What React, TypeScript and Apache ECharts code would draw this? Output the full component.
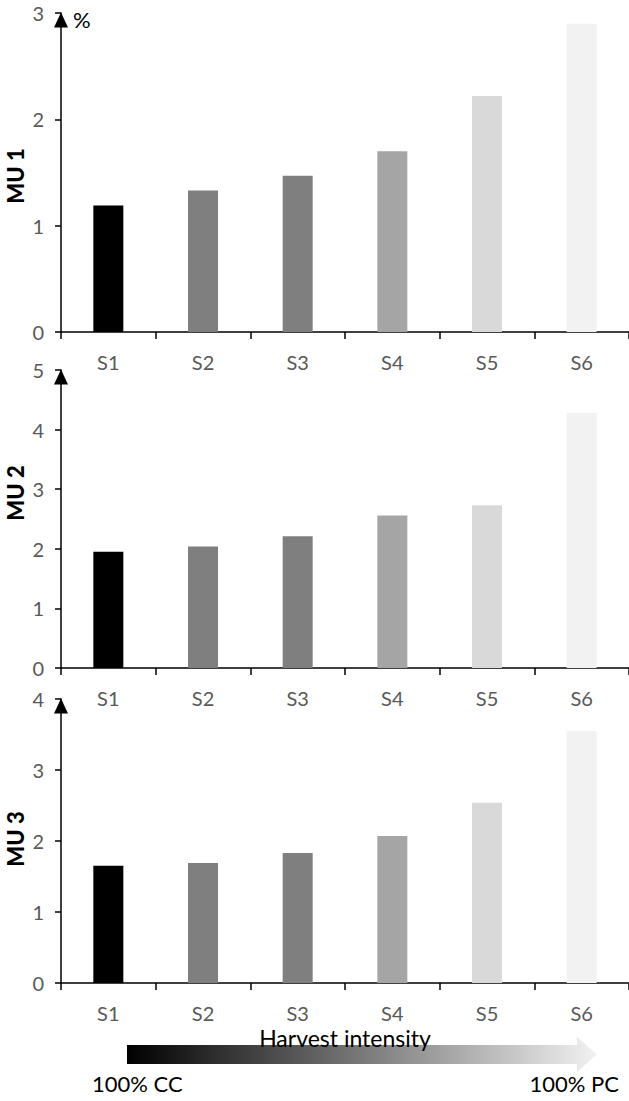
import React, { useEffect, useRef } from "react";
import * as echarts from "echarts";

const categories = ["S1", "S2", "S3", "S4", "S5", "S6"];
const mu1Values = [1.19, 1.33, 1.47, 1.7, 2.22, 2.9];
const mu2Values = [1.95, 2.04, 2.21, 2.56, 2.73, 4.28];
const mu3Values = [1.65, 1.69, 1.83, 2.07, 2.54, 3.55];
const barColors = ["#000000", "#7f7f7f", "#7f7f7f", "#a5a5a5", "#d9d9d9", "#f2f2f2"];
const panelNames = ["MU 1", "MU 2", "MU 3"];
const yMax = [3, 5, 4];

const FONT = "Lato, 'Open Sans', sans-serif";

export default function App() {
  const ref = useRef<HTMLDivElement>(null);

  useEffect(() => {
    if (!ref.current) return;
    const chart = echarts.init(ref.current, null, { renderer: "svg" });

    const grids = [
      { left: 61, top: 13, width: 573, height: 319 },
      { left: 61, top: 370, width: 573, height: 298 },
      { left: 61, top: 699, width: 573, height: 284 },
    ];
    const seriesData = [mu1Values, mu2Values, mu3Values];

    const xAxes = grids.map((_, i) => ({
      type: "category",
      gridIndex: i,
      data: categories,
      axisLine: { lineStyle: { color: "#000", width: 1.5 } },
      axisTick: { show: true, length: 7, lineStyle: { color: "#000", width: 1.5 } },
      axisLabel: { color: "#595959", fontSize: 20, fontFamily: FONT, margin: 20 },
    }));

    const yAxes = grids.map((_, i) => ({
      type: "value",
      gridIndex: i,
      min: 0,
      max: yMax[i],
      interval: 1,
      splitLine: { show: false },
      axisLine: {
        show: true,
        symbol: ["none", "triangle"],
        symbolSize: [14, 15],
        symbolOffset: [0, -7],
        lineStyle: { color: "#000", width: 1.5 },
      },
      axisTick: { show: true, length: 6, lineStyle: { color: "#000", width: 1.5 } },
      axisLabel: { color: "#595959", fontSize: 20, fontFamily: FONT, margin: 17 },
    }));

    const series = seriesData.map((vals, i) => ({
      type: "bar",
      xAxisIndex: i,
      yAxisIndex: i,
      barWidth: 30,
      data: vals.map((v, j) => ({ value: v, itemStyle: { color: barColors[j] } })),
    }));

    const muY = [176, 493, 839];

    chart.setOption({
      animation: false,
      grid: grids,
      xAxis: xAxes,
      yAxis: yAxes,
      series,
      graphic: [
        ...panelNames.map((name, i) => ({
          type: "text",
          x: 15,
          y: muY[i],
          rotation: Math.PI / 2,
          style: {
            text: name,
            fill: "#000",
            font: `900 22px ${FONT}`,
            textAlign: "center",
            textVerticalAlign: "middle",
          },
        })),
        {
          type: "text",
          x: 73,
          y: 19,
          style: { text: "%", fill: "#000", font: `22px ${FONT}`, textAlign: "left", textVerticalAlign: "middle" },
        },
        {
          type: "polygon",
          shape: {
            points: [
              [127, 1045],
              [577, 1045],
              [577, 1037],
              [597, 1054.5],
              [577, 1072],
              [577, 1064],
              [127, 1064],
            ],
          },
          style: {
            fill: new echarts.graphic.LinearGradient(0, 0, 1, 0, [
              { offset: 0, color: "#000000" },
              { offset: 1, color: "#f2f2f2" },
            ]),
          },
        },
        {
          type: "text",
          x: 345,
          y: 1038,
          style: { text: "Harvest intensity", fill: "#000", font: `23px ${FONT}`, textAlign: "center", textVerticalAlign: "middle" },
        },
        {
          type: "text",
          x: 92,
          y: 1083,
          style: { text: "100% CC", fill: "#000", font: `22px ${FONT}`, textAlign: "left", textVerticalAlign: "middle" },
        },
        {
          type: "text",
          x: 619,
          y: 1083,
          style: { text: "100% PC", fill: "#000", font: `22px ${FONT}`, textAlign: "right", textVerticalAlign: "middle" },
        },
      ],
    });

    return () => chart.dispose();
  }, []);

  return (
    <div
      ref={ref}
      style={{ position: "fixed", left: 0, top: 0, width: 629, height: 1101, background: "#fff" }}
    />
  );
}
